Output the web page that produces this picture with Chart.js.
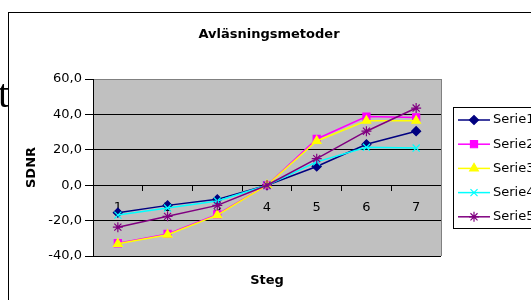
<!DOCTYPE html>
<html><head><meta charset="utf-8">
<script src="https://cdn.jsdelivr.net/npm/chart.js@4/dist/chart.umd.min.js"></script>
<style>html,body{margin:0;padding:0;background:#fff;overflow:hidden}canvas{display:block}</style>
</head><body>
<canvas id="c" width="531" height="300"></canvas>
<script>
const categories = ['1', '2', '3', '4', '5', '6', '7'];
const serie1 = [-15.5, -11.4, -8.0, 0, 10.6, 23.1, 30.5];
const serie2 = [-32.8, -27.5, -16.5, 0, 26.1, 38.8, 38.3];
const serie3 = [-33.1, -28.0, -16.9, 0, 25.0, 36.4, 36.4];
const serie4 = [-16.9, -12.9, -8.9, 0, 13.2, 21.4, 21.0];
const serie5 = [-23.7, -17.6, -11.4, 0, 15.0, 30.5, 43.6];
const seriesNames = ['Serie1', 'Serie2', 'Serie3', 'Serie4', 'Serie5'];
const yTickValues = [-40, -20, 0, 20, 40, 60];
const chartTitle = 'Avläsningsmetoder';
const xTitle = 'Steg';
const yTitle = 'SDNR';
const strayText = 't';

const seriesData = [serie1, serie2, serie3, serie4, serie5];
const looks = [
  { c: '#000080', p: 'rectRot', r: 4.5 },
  { c: '#FF00FF', p: 'rect', r: 5 },
  { c: '#FFFF00', p: 'triangle', r: 5 },
  { c: '#00FFFF', p: 'crossRot', r: 5 },
  { c: '#800080', p: 'star', r: 5 }
];
const FONT = 'DejaVu Sans';

const datasets = seriesData.map((d, i) => ({
  label: seriesNames[i],
  data: d,
  borderColor: looks[i].c,
  backgroundColor: looks[i].c,
  pointBackgroundColor: looks[i].c,
  pointBorderColor: looks[i].c,
  pointStyle: looks[i].p,
  pointRadius: looks[i].r,
  pointBorderWidth: 1.2,
  borderWidth: 1.5,
  tension: 0,
  fill: false,
  order: seriesData.length - i
}));

const decor = {
  id: 'decor',
  beforeDraw(chart) {
    const ctx = chart.ctx, a = chart.chartArea;
    ctx.save();
    ctx.fillStyle = '#fff';
    ctx.fillRect(0, 0, chart.width, chart.height);
    // stray glyph at left edge
    ctx.fillStyle = '#000';
    ctx.font = '40px "Liberation Serif"';
    ctx.textAlign = 'left';
    ctx.textBaseline = 'alphabetic';
    ctx.fillText(strayText, -2, 107);
    // outer frame
    ctx.strokeStyle = '#000';
    ctx.lineWidth = 1;
    ctx.strokeRect(8.5, 12.5, 800, 600);
    // plot background
    ctx.fillStyle = '#C0C0C0';
    ctx.fillRect(a.left, a.top, a.right - a.left, a.bottom - a.top);
    ctx.restore();
  },
  beforeDatasetsDraw(chart) {
    const ctx = chart.ctx, a = chart.chartArea;
    ctx.save();
    ctx.strokeStyle = '#808080';
    ctx.lineWidth = 1;
    ctx.beginPath();
    ctx.moveTo(Math.round(a.right) + 0.5, a.top);
    ctx.lineTo(Math.round(a.right) + 0.5, a.bottom);
    ctx.stroke();
    ctx.restore();
  },
  afterDraw(chart) {
    const ctx = chart.ctx, a = chart.chartArea;
    ctx.save();
    ctx.fillStyle = '#000';
    // title
    ctx.font = 'bold 13px "' + FONT + '"';
    ctx.textAlign = 'center';
    ctx.textBaseline = 'middle';
    ctx.fillText(chartTitle, 269, 35);
    // x title
    ctx.fillText(xTitle, (a.left + a.right) / 2, 281);
    // y title
    ctx.save();
    ctx.translate(32, (a.top + a.bottom) / 2);
    ctx.rotate(-Math.PI / 2);
    ctx.fillText(yTitle, 0, 0);
    ctx.restore();
    // legend
    ctx.fillStyle = '#fff';
    ctx.fillRect(453, 107, 200, 121);
    ctx.strokeStyle = '#000';
    ctx.lineWidth = 1;
    ctx.strokeRect(453.5, 107.5, 200, 121);
    chart.data.datasets.forEach((ds, i) => {
      const y = 120 + i * 24.2;
      ctx.strokeStyle = ds.borderColor;
      ctx.lineWidth = ds.borderWidth;
      ctx.beginPath();
      ctx.moveTo(458, y);
      ctx.lineTo(490, y);
      ctx.stroke();
      ctx.fillStyle = ds.pointBackgroundColor;
      ctx.strokeStyle = ds.pointBorderColor;
      ctx.lineWidth = ds.pointBorderWidth;
      Chart.helpers.drawPoint(ctx, { pointStyle: ds.pointStyle, radius: ds.pointRadius, borderWidth: ds.pointBorderWidth, rotation: 0 }, 474, y);
      ctx.fillStyle = '#000';
      ctx.font = '13px "' + FONT + '"';
      ctx.textAlign = 'left';
      ctx.textBaseline = 'middle';
      ctx.fillText(ds.label, 493, y);
    });
    ctx.restore();
  }
};

new Chart(document.getElementById('c'), {
  type: 'line',
  data: { labels: categories, datasets },
  plugins: [decor],
  options: {
    responsive: false,
    animation: false,
    events: [],
    layout: { padding: { left: 0, top: 79, right: 90, bottom: 44 } },
    plugins: { legend: { display: false }, title: { display: false }, tooltip: { enabled: false } },
    scales: {
      y: {
        type: 'linear',
        position: 'left',
        min: -40,
        max: 60,
        afterFit(s) { s.width = 93; },
        afterBuildTicks(s) { s.ticks = yTickValues.map(v => ({ value: v })); },
        ticks: {
          font: { family: FONT, size: 13 },
          color: '#000',
          padding: 3,
          callback: v => v.toFixed(1).replace('.', ',')
        },
        grid: {
          color: ctx => (ctx.tick && ctx.tick.value === 60) ? '#808080' : '#000',
          tickColor: '#000',
          tickLength: 8,
          lineWidth: 1
        },
        border: { display: true, color: '#000', width: 1 }
      },
      x: {
        type: 'category',
        position: { y: 0 },
        offset: true,
        afterFit(s) { s.height = 0; },
        ticks: {
          font: { family: FONT, size: 13 },
          color: '#000',
          padding: 10,
          maxRotation: 0,
          autoSkip: false
        },
        grid: { offset: true, drawOnChartArea: false, tickLength: 5, color: '#000', tickColor: '#000' },
        border: { display: true, color: '#000', width: 1 }
      }
    }
  }
});
</script>
</body></html>
